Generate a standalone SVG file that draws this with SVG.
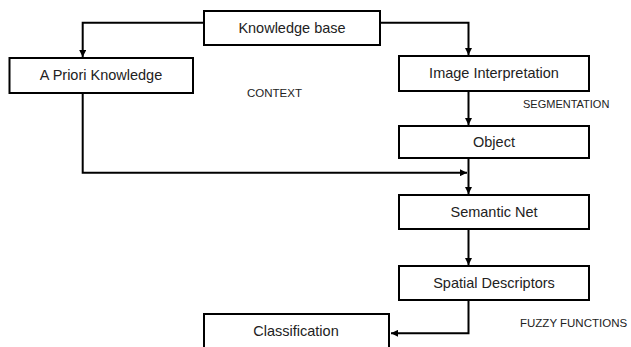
<svg xmlns="http://www.w3.org/2000/svg" width="631" height="347" viewBox="0 0 631 347">
<style>
.box{fill:#fff;stroke:#000;stroke-width:2}
.lbl{font-family:"Liberation Sans",Arial,sans-serif;font-size:14.5px;fill:#222;text-anchor:middle}
.note{font-family:"Liberation Sans",Arial,sans-serif;font-size:11.5px;fill:#222}
.wire{fill:none;stroke:#000;stroke-width:2}
</style>
<defs>
<marker id="ah" viewBox="0 0 10 10" refX="10" refY="5" markerWidth="3.5" markerHeight="3.5" orient="auto" markerUnits="strokeWidth">
<path d="M0,0 L10,5 L0,10 z" fill="#000"/>
</marker>
</defs>
<rect width="631" height="347" fill="#fff"/>
<g id="connectors">
<path class="wire" d="M204,22.7 H82.7 V57" marker-end="url(#ah)"/>
<path class="wire" d="M380,22.7 H468.5 V55" marker-end="url(#ah)"/>
<path class="wire" d="M468.5,91 V125" marker-end="url(#ah)"/>
<path class="wire" d="M82.7,93 V172.7 H467" marker-end="url(#ah)"/>
<path class="wire" d="M468.5,158 V194" marker-end="url(#ah)"/>
<path class="wire" d="M468.5,229 V265" marker-end="url(#ah)"/>
<path class="wire" d="M468.5,300 V333.3 H391" marker-end="url(#ah)"/>
</g>
<g id="knowledge-base">
<rect class="box" x="204" y="11" width="176" height="34"/>
<text class="lbl" x="292" y="33">Knowledge base</text>
</g>
<g id="a-priori">
<rect class="box" x="9.5" y="58" width="183.5" height="35"/>
<text class="lbl" x="101" y="80">A Priori Knowledge</text>
</g>
<g id="image-interpretation">
<rect class="box" x="399" y="56" width="190" height="35"/>
<text class="lbl" x="494" y="78">Image Interpretation</text>
</g>
<g id="object">
<rect class="box" x="399" y="126" width="190" height="32"/>
<text class="lbl" x="494" y="147">Object</text>
</g>
<g id="semantic-net">
<rect class="box" x="399" y="195" width="190" height="34"/>
<text class="lbl" x="494" y="217">Semantic Net</text>
</g>
<g id="spatial-descriptors">
<rect class="box" x="399" y="266" width="190" height="34"/>
<text class="lbl" x="494" y="288">Spatial Descriptors</text>
</g>
<g id="classification">
<rect class="box" x="204" y="314" width="185" height="40"/>
<text class="lbl" x="296" y="336">Classification</text>
</g>
<g id="notes">
<text class="note" x="247" y="97">CONTEXT</text>
<text class="note" x="523" y="108" style="font-size:11px">SEGMENTATION</text>
<text class="note" x="520" y="327">FUZZY FUNCTIONS</text>
</g>
</svg>
